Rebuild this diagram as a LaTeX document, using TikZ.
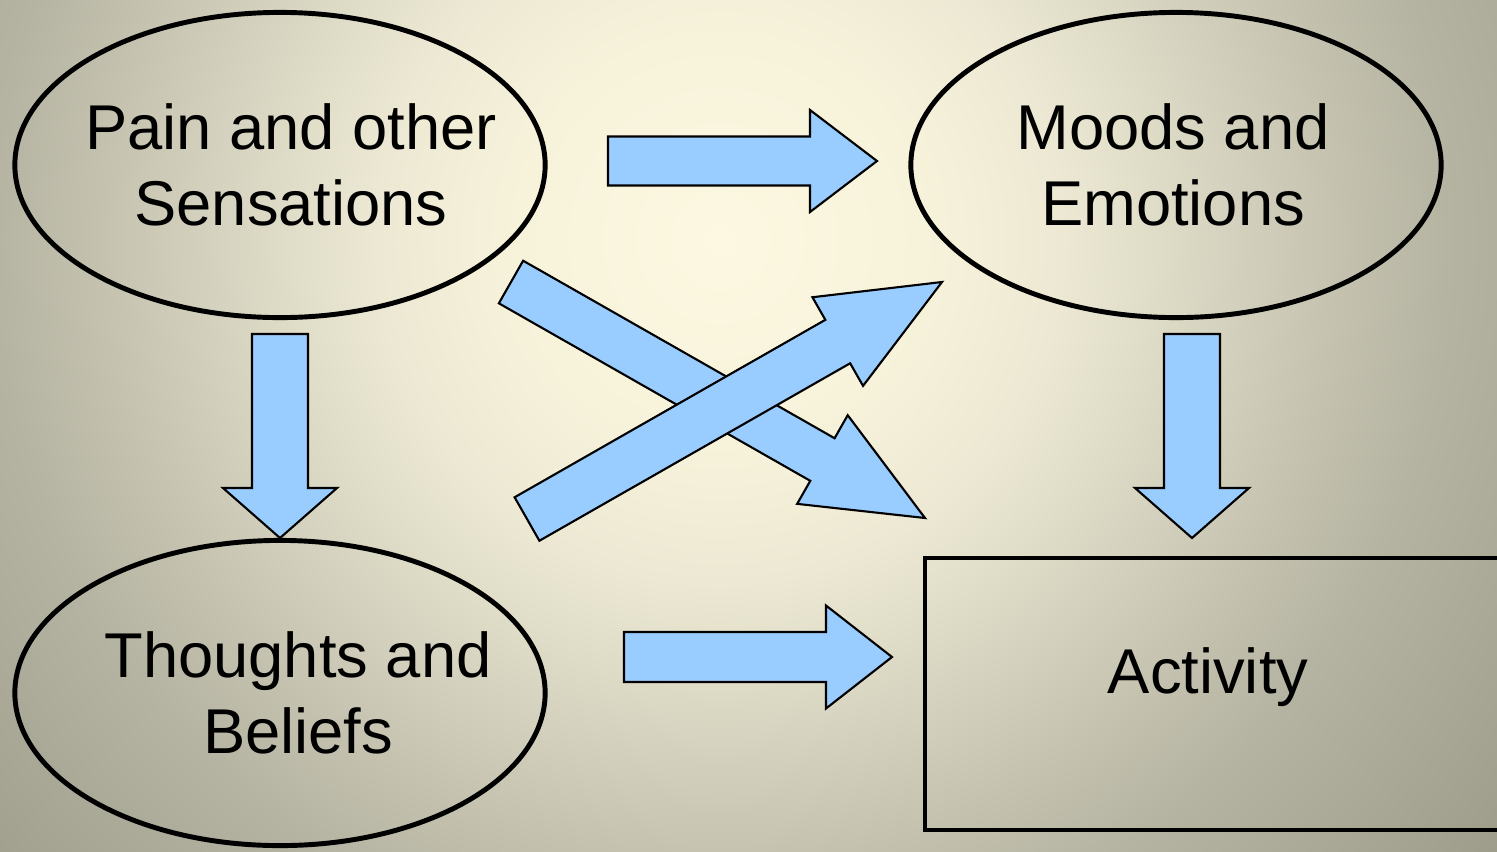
\documentclass[tikz,border=0pt]{standalone}
\usepackage{fontspec}
\setmainfont{Liberation Sans}
\usetikzlibrary{shapes.geometric,calc}

\definecolor{arrowblue}{HTML}{99CCFF}
\definecolor{bgA}{HTML}{FCF8E1}
\definecolor{bgB}{HTML}{F7F3DB}
\definecolor{bgC}{HTML}{ECE8D3}
\definecolor{bgD}{HTML}{D5D3BF}
\definecolor{bgE}{HTML}{B5B3A1}
\definecolor{bgF}{HTML}{9C9A88}
\pgfdeclareradialshading{bgshade}{\pgfpoint{0bp}{0bp}}{color(0bp)=(bgA); color(5bp)=(bgB); color(8.5bp)=(bgC); color(12.5bp)=(bgD); color(18bp)=(bgE); color(25bp)=(bgF); color(50bp)=(bgF)}

\tikzset{
  topic/.style={ellipse, draw=black, line width=1.4pt, minimum width=5.3cm, minimum height=3.05cm, inner sep=0pt},
  topictext/.style={align=center},
  boxline/.style={draw=black, line width=1.4pt},
  arrowfill/.style={fill=arrowblue, draw=black, line width=0.6pt, line join=miter}
}

% block arrow: tail, tip, half shaft width, half head width, head length
\newcommand{\blockarrow}[5]{%
  \coordinate (ba-base) at ($(#2)!#5!(#1)$);
  \filldraw[arrowfill] ($(#1)!#3!90:(#2)$) -- ($(ba-base)!#3!90:(#2)$)
    -- ($(ba-base)!#4!90:(#2)$) -- (#2) -- ($(ba-base)!#4!-90:(#2)$)
    -- ($(ba-base)!#3!-90:(#2)$) -- ($(#1)!#3!-90:(#2)$) -- cycle;
}

\begin{document}
\begin{tikzpicture}[x=0.01cm, y=-0.01cm, font=\fontsize{18}{21.6}\selectfont]
  \useasboundingbox (0,0) rectangle (1497,851);
  \begin{scope}                           % background
    \clip (0,0) rectangle (1497,851);
    \shade[shading=bgshade] (720,240) circle (1010);
  \end{scope}

  \node[topic, label={[topictext, xshift=0.11cm]center:Pain and other\\Sensations}] (pain) at (280,165) {};
  \node[topic, label={[topictext, xshift=-0.03cm]center:Moods and\\Emotions}] (moods) at (1176,165) {};
  \node[topic, label={[topictext, xshift=0.18cm]center:Thoughts and\\Beliefs}] (thoughts) at (280,693) {};
  \draw[boxline] (925,558) coordinate (box-nw) rectangle (1540,830) coordinate (box-se);
  \node (activity) at (1208,677) {Activity};

  \coordinate (pm-tail) at (608,161);  \coordinate (pm-tip) at (877,161);
  \coordinate (ta-tail) at (624,657);  \coordinate (ta-tip) at (892,657);
  \coordinate (pt-tail) at (280,334);  \coordinate (pt-tip) at (280,538);
  \coordinate (ma-tail) at (1192,334); \coordinate (ma-tip) at (1192,538);
  \coordinate (pa-tail) at (511,282);  \coordinate (pa-tip) at (925,518);
  \coordinate (tm-tail) at (527,519);  \coordinate (tm-tip) at (942,282);

  \blockarrow{pm-tail}{pm-tip}{0.245cm}{0.51cm}{0.67cm}
  \blockarrow{ta-tail}{ta-tip}{0.25cm}{0.515cm}{0.66cm}
  \blockarrow{pt-tail}{pt-tip}{0.28cm}{0.57cm}{0.50cm}
  \blockarrow{ma-tail}{ma-tip}{0.28cm}{0.57cm}{0.50cm}
  \blockarrow{pa-tail}{pa-tip}{0.245cm}{0.51cm}{1.18cm}
  \blockarrow{tm-tail}{tm-tip}{0.25cm}{0.51cm}{1.20cm}
\end{tikzpicture}
\end{document}
